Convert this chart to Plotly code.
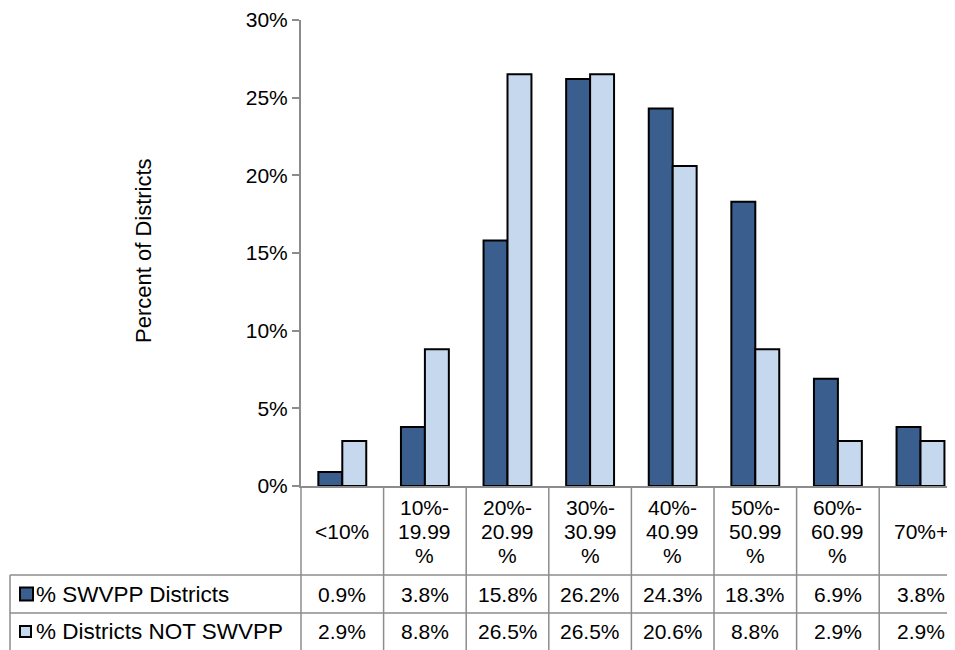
import plotly.graph_objects as go

categories = ["<10%", "10%-<br>19.99<br>%", "20%-<br>20.99<br>%", "30%-<br>30.99<br>%",
              "40%-<br>40.99<br>%", "50%-<br>50.99<br>%", "60%-<br>60.99<br>%", "70%+"]
swvpp = [0.9, 3.8, 15.8, 26.2, 24.3, 18.3, 6.9, 3.8]
not_swvpp = [2.9, 8.8, 26.5, 26.5, 20.6, 8.8, 2.9, 2.9]
series_names = ["% SWVPP Districts", "% Districts NOT SWVPP"]
y_ticks = [0, 5, 10, 15, 20, 25, 30]

# the page body has an 8px margin, so the figure sits at (8, 8) in the window
OFF = 8
W, H = 955 - OFF, 650 - OFF
FONT = "Liberation Sans, Arial, sans-serif"
DARK = "#3A5F8F"
LIGHT = "#C6D8EE"
GRID = "#8C8C8C"
FS = 21

# pixel layout (window coords, from the reference)
plot_left, plot_right = 301, 955
plot_top, plot_bottom = 20, 486
row1, row2, table_bottom = 575, 613, 650
table_left = 10
cat_w = 82.6
line_h = 24
x_range = [-0.5, -0.5 + (plot_right - plot_left) / cat_w]

def px(x):
    return (x - OFF) / W

def py(y):
    return 1 - (y - OFF) / H

x_idx = list(range(len(categories)))

fig = go.Figure()
fig.add_bar(x=x_idx, y=swvpp, name=series_names[0], marker=dict(color=DARK, line=dict(color="black", width=2)))
fig.add_bar(x=x_idx, y=not_swvpp, name=series_names[1], marker=dict(color=LIGHT, line=dict(color="black", width=2)))

shapes = []
annotations = []

def cat_px(v):
    return plot_left + (v - x_range[0]) * cat_w

def text(x, y, s, size=FS, anchor="center", angle=0):
    annotations.append(dict(xref="paper", yref="paper", x=px(x), y=py(y), text=s, showarrow=False,
                            textangle=angle, font=dict(size=size, family=FONT, color="black"),
                            xanchor=anchor, yanchor="middle"))

# vertical table lines at category boundaries
for i in range(len(categories)):
    xb = cat_px(i - 0.5)
    shapes.append(dict(type="line", xref="paper", yref="paper", x0=px(xb), x1=px(xb),
                       y0=py(plot_bottom), y1=py(table_bottom + 2), line=dict(color=GRID, width=1.5)))
# left border of the legend column
shapes.append(dict(type="line", xref="paper", yref="paper", x0=px(table_left), x1=px(table_left),
                   y0=py(row1), y1=py(table_bottom + 2), line=dict(color=GRID, width=1.5)))
# horizontal table lines
for yy in (row1, row2):
    shapes.append(dict(type="line", xref="paper", yref="paper", x0=px(table_left), x1=1,
                       y0=py(yy), y1=py(yy), line=dict(color=GRID, width=1.5)))

# header labels (one annotation per line for Excel-like line spacing) and values
head_mid = (plot_bottom + row1) / 2 + 1
for i, cat in enumerate(categories):
    cx = cat_px(i)
    lines = cat.split("<br>")
    for k, ln in enumerate(lines):
        text(cx, head_mid + (k - (len(lines) - 1) / 2) * line_h, ln)
    for vals, r0, r1 in ((swvpp, row1, row2), (not_swvpp, row2, table_bottom)):
        text(cx, (r0 + r1) / 2, f"{vals[i]:.1f}%")

# legend keys inside the table
for name, col, r0, r1, sz in ((series_names[0], DARK, row1, row2, 13), (series_names[1], LIGHT, row2, table_bottom, 11)):
    cy = (r0 + r1) / 2
    shapes.append(dict(type="rect", xref="paper", yref="paper", x0=px(20), x1=px(20 + sz),
                       y0=py(cy + sz / 2), y1=py(cy - sz / 2), fillcolor=col, line=dict(color="black", width=2)))
    text(34, cy, name, size=FS + 1.5, anchor="left")

# y axis title
text(143, 251, "Percent of Districts", size=FS + 1, angle=-90)

fig.update_layout(
    width=W, height=H,
    margin=dict(l=0, r=0, t=0, b=0, pad=0),
    paper_bgcolor="white", plot_bgcolor="white",
    barmode="group", bargap=0.42, bargroupgap=0,
    showlegend=False,
    font=dict(family=FONT, size=FS, color="black"),
    xaxis=dict(domain=[px(plot_left), 1], range=x_range, showticklabels=False, ticks="",
               showgrid=False, zeroline=False, showline=True, linecolor=GRID, linewidth=2,
               automargin=False, fixedrange=True),
    yaxis=dict(domain=[py(plot_bottom), py(plot_top)], range=[0, 30], tickvals=y_ticks,
               ticktext=[f"{v}%" for v in y_ticks], ticks="outside", ticklen=7, tickcolor=GRID,
               tickwidth=2, showgrid=False, zeroline=False, showline=True, linecolor=GRID, linewidth=2,
               tickfont=dict(size=FS, family=FONT, color="black"), automargin=False, fixedrange=True,
               ticklabeloverflow="allow"),
    shapes=shapes,
    annotations=annotations,
)

fig.write_html("out.html")
